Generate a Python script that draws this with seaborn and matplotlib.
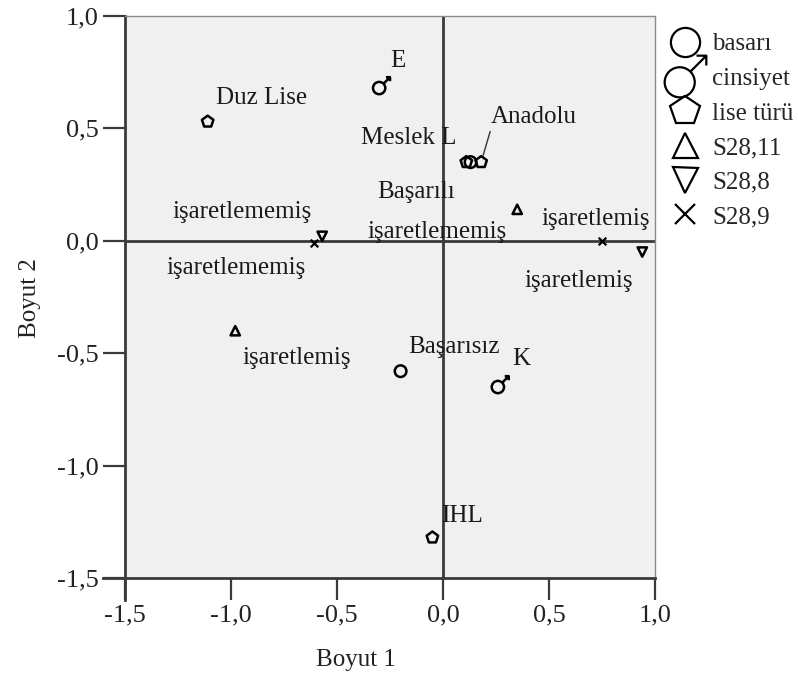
import matplotlib
matplotlib.use("Agg")
import matplotlib.pyplot as plt
from matplotlib.lines import Line2D
from matplotlib.path import Path
import seaborn as sns
import pandas as pd

# ---------------- data ----------------
basari_labels = ["Başarılı", "Başarısız"]
basari_x = [0.13, -0.20]
basari_y = [0.35, -0.58]

cinsiyet_labels = ["E", "K"]
cinsiyet_x = [-0.29, 0.27]
cinsiyet_y = [0.69, -0.64]

lise_labels = ["Duz Lise", "Meslek L", "Anadolu", "IHL"]
lise_x = [-1.11, 0.11, 0.18, -0.05]
lise_y = [0.53, 0.35, 0.35, -1.32]

s2811_labels = ["işaretlemiş", "işaretlememiş"]
s2811_x = [-0.98, 0.35]
s2811_y = [-0.40, 0.14]

s288_labels = ["işaretlememiş", "işaretlemiş"]
s288_x = [-0.57, 0.94]
s288_y = [0.02, -0.05]

s289_labels = ["işaretlememiş", "işaretlemiş"]
s289_x = [-0.61, 0.75]
s289_y = [-0.01, 0.00]

group_names = ["basarı", "cinsiyet", "lise türü", "S28,11", "S28,8", "S28,9"]

x_ticks = [-1.5, -1.0, -0.5, 0.0, 0.5, 1.0]
x_ticklabels = ["-1,5", "-1,0", "-0,5", "0,0", "0,5", "1,0"]
y_ticks = [-1.5, -1.0, -0.5, 0.0, 0.5, 1.0]
y_ticklabels = ["-1,5", "-1,0", "-0,5", "0,0", "0,5", "1,0"]

x_title = "Boyut 1"
y_title = "Boyut 2"

frames = []
for g, labs, xs, ys in [
    ("basarı", basari_labels, basari_x, basari_y),
    ("cinsiyet", cinsiyet_labels, cinsiyet_x, cinsiyet_y),
    ("lise türü", lise_labels, lise_x, lise_y),
    ("S28,11", s2811_labels, s2811_x, s2811_y),
    ("S28,8", s288_labels, s288_x, s288_y),
    ("S28,9", s289_labels, s289_x, s289_y),
]:
    frames.append(pd.DataFrame({"x": xs, "y": ys, "group": g, "label": labs}))
df = pd.concat(frames, ignore_index=True)

# ---------------- styles / layout ----------------
sns.set_theme(style="white")
plt.rcParams["font.family"] = ["Liberation Serif", "DejaVu Serif"]

# male-symbol marker: ring + arrow toward upper right
ring = Path.circle(center=(-0.2, -0.2), radius=0.52)
shaft = Path([(0.17, 0.17), (0.72, 0.72)], [Path.MOVETO, Path.LINETO])
head = Path([(0.38, 0.72), (0.72, 0.72), (0.72, 0.38)],
            [Path.MOVETO, Path.LINETO, Path.LINETO])
MALE = Path.make_compound_path(ring, shaft, head)

marker_style = {
    "basarı": dict(marker="o", s=70, facecolors="none", edgecolors="black", linewidths=1.8),
    "cinsiyet": dict(marker=MALE, s=150, facecolors="none", edgecolors="black", linewidths=1.8),
    "lise türü": dict(marker="p", s=75, facecolors="none", edgecolors="black", linewidths=1.8),
    "S28,11": dict(marker="^", s=45, facecolors="none", edgecolors="black", linewidths=1.8),
    "S28,8": dict(marker="v", s=45, facecolors="none", edgecolors="black", linewidths=1.8),
    "S28,9": dict(marker="x", s=30, color="black", linewidths=1.6),
}

# label offsets in pixels (dx, dy, ha)
label_offsets = {
    ("basarı", "Başarılı"): (-16, -30, "right"),
    ("basarı", "Başarısız"): (8, 24, "left"),
    ("cinsiyet", "E"): (9, 25, "left"),
    ("cinsiyet", "K"): (12, 26, "left"),
    ("lise türü", "Duz Lise"): (8, 24, "left"),
    ("lise türü", "Meslek L"): (-10, 24, "right"),
    ("lise türü", "Anadolu"): (10, 45, "left"),
    ("lise türü", "IHL"): (9, 22, "left"),
    ("S28,11", "işaretlemiş"): (7, -27, "left"),
    ("S28,11", "işaretlememiş"): (-10, -23, "right"),
    ("S28,8", "işaretlememiş"): (-10, 24, "right"),
    ("S28,8", "işaretlemiş"): (-9, -29, "right"),
    ("S28,9", "işaretlememiş"): (-8, -25, "right"),
    ("S28,9", "işaretlemiş"): (-6, 22, "center"),
}

W, H = 798, 688
fig = plt.figure(figsize=(W / 100, H / 100), dpi=100)
L, R, T, B = 125, 655, 16, 578
ax = fig.add_axes([L / W, 1 - B / H, (R - L) / W, (B - T) / H])
ax.set_facecolor("#f0f0f0")

ax.axhline(0, color="#3a3a3a", lw=2, zorder=1)
ax.axvline(0, color="#3a3a3a", lw=2, zorder=1)

for g in group_names:
    sub = df[df["group"] == g]
    sns.scatterplot(data=sub, x="x", y="y", ax=ax, legend=False, zorder=3,
                    **marker_style[g])

FS = 18
for _, row in df.iterrows():
    dx, dy, ha = label_offsets[(row["group"], row["label"])]
    kw = dict(xy=(row["x"], row["y"]), xytext=(dx, dy), textcoords="offset pixels",
              ha=ha, va="center", fontsize=FS, color="#1a1a1a", zorder=4)
    if row["label"] == "Anadolu":
        kw["arrowprops"] = dict(arrowstyle="-", color="#333333", lw=1,
                                relpos=(0, 0), shrinkA=0, shrinkB=5)
    ax.annotate(row["label"], **kw)

ax.set_xlim(-1.5, 1.0)
ax.set_ylim(-1.5, 1.0)
ax.set_xticks(x_ticks)
ax.set_xticklabels(x_ticklabels)
ax.set_yticks(y_ticks)
ax.set_yticklabels(y_ticklabels)
ax.tick_params(axis="both", direction="out", length=16, width=1.6, color="#3a3a3a",
               labelsize=19, labelcolor="#222222", pad=3, left=True, bottom=True)

for side in ["top", "right"]:
    ax.spines[side].set_color("#8a8a8a")
    ax.spines[side].set_linewidth(1)
for side in ["left", "bottom"]:
    ax.spines[side].set_color("#3a3a3a")
    ax.spines[side].set_linewidth(2)
ax.spines["left"].set_bounds(-1.5 - 22 / 225, 1.0)
ax.spines["bottom"].set_bounds(-1.5 - 22 / 212, 1.0)

ax.set_xlabel(x_title, fontsize=FS, color="#222222", va="center")
ax.xaxis.set_label_coords((356 - L) / (R - L), -(660 - B) / (B - T))
ax.set_ylabel(y_title, fontsize=FS, color="#222222", va="center")
ax.yaxis.set_label_coords((30 - L) / (R - L), (B - 298) / (B - T))

handles = []
for g in group_names:
    st = marker_style[g]
    if g == "cinsiyet":
        h = Line2D([], [], linestyle="none", marker=MALE, markersize=30,
                   markerfacecolor="none", markeredgecolor="black", markeredgewidth=1.6)
    elif g == "S28,9":
        h = Line2D([], [], linestyle="none", marker="x", markersize=15,
                   color="black", markeredgewidth=1.6)
    else:
        ms = {"basarı": 21, "lise türü": 22, "S28,11": 18, "S28,8": 18}[g]
        h = Line2D([], [], linestyle="none", marker=st["marker"], markersize=ms,
                   markerfacecolor="none", markeredgecolor="black", markeredgewidth=1.6)
    handles.append(h)

fig.legend(handles, group_names, loc="upper left", bbox_to_anchor=(666 / W, 1 - 33 / H),
           frameon=False, fontsize=FS, handlelength=1.5, handletextpad=0.35,
           labelspacing=0.48, borderpad=0, borderaxespad=0)

fig.savefig("out.png", dpi=100)
